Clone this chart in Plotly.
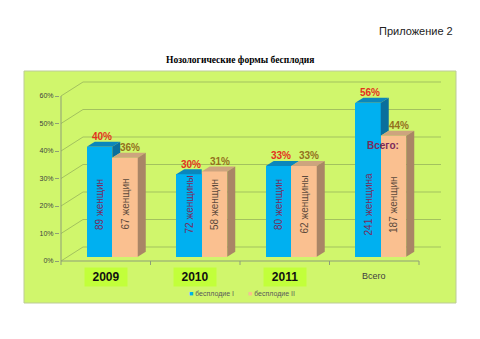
import plotly.graph_objects as go

# ---------------- data ----------------
categories = ["2009", "2010", "2011", "Всего"]
series_names = ["бесплодие I", "бесплодие II"]
infert1 = [0.40, 0.30, 0.33, 0.56]
infert2 = [0.36, 0.31, 0.33, 0.44]
label1 = ["40%", "30%", "33%", "56%"]
label2 = ["36%", "31%", "33%", "44%"]
women1 = ["89 женщин", "72 женщины", "80 женщин", "241 женщина"]
women2 = ["67 женщин", "58 женщин", "62 женщины", "187 женщин"]
ytick_vals = [0, 0.1, 0.2, 0.3, 0.4, 0.5, 0.6]
ytick_text = ["0%", "10%", "20%", "30%", "40%", "50%", "60%"]

# ---------------- geometry / style ----------------
W, H = 480, 339
PX_X = 89.5          # px per category
PX_Y = 275.0         # px per 100 %
PLOT_L, PLOT_R = 60, 444
PLOT_T, PLOT_B = 72, 268
FRONT_L = 61         # front plane left px
ZERO = 261           # front plane zero px (from top)


def ux(px):
    return px / PX_X


def uy(px):
    return px / PX_Y


def py(p):
    return 1 - p / H


x_range = [-0.5 - ux(FRONT_L - PLOT_L), -0.5 + ux(PLOT_R - FRONT_L)]
y_range = [-uy(PLOT_B - ZERO), uy(ZERO - PLOT_T)]

BAR_DX, BAR_DY = ux(6.5), uy(4.3)   # bars sit a bit behind front plane
BW = ux(25.5)                       # bar width
DX, DY = ux(8), uy(5)               # 3D depth of the bars
WALL_DX, WALL_DY = ux(22), uy(14)   # back wall depth
WALL_R = -0.5 + ux(441 - FRONT_L)
TEXT_Y = 0.19                       # height of the in-bar captions

BLUE, BLUE_TOP, BLUE_SIDE = "#00B0F0", "#0A86BC", "#0A6F9C"
PEACH, PEACH_TOP, PEACH_SIDE = "#FAC090", "#CDA47E", "#A98566"
BG = "#D0F66C"
BOX = "#C2FF3A"
GRID = "#A3C25E"
AXIS = "#8E9E78"
RED = "#E3321E"
BROWN = "#93701E"
TXT1 = "#7A2A5C"
TXT2 = "#5C4A3C"
FONT = "Liberation Sans"

fig = go.Figure()

idx = list(range(len(categories)))
x1 = [i + BAR_DX - BW / 2 for i in idx]
x2 = [i + BAR_DX + BW / 2 for i in idx]

fig.add_trace(go.Bar(
    x=x1, y=infert1, base=BAR_DY, width=BW, name=series_names[0],
    marker=dict(color=BLUE, line=dict(width=0)), showlegend=False, hoverinfo="skip"))
fig.add_trace(go.Bar(
    x=x2, y=infert2, base=BAR_DY, width=BW, name=series_names[1],
    marker=dict(color=PEACH, line=dict(width=0)), showlegend=False, hoverinfo="skip"))


def poly(xs, ys, color):
    fig.add_trace(go.Scatter(x=xs + [xs[0]], y=ys + [ys[0]], mode="lines", fill="toself",
                             fillcolor=color, line=dict(width=0, color=color),
                             showlegend=False, hoverinfo="skip"))


for i in idx:
    # blue bar faces
    xl, xr = x1[i] - BW / 2, x1[i] + BW / 2
    bt = BAR_DY + infert1[i]
    pt = BAR_DY + infert2[i]
    if pt > bt:
        poly([xl, xl + DX, xr, xr], [bt, bt + DY, bt + DY, bt], BLUE_TOP)
    else:
        poly([xl, xl + DX, xr + DX, xr], [bt, bt + DY, bt + DY, bt], BLUE_TOP)
    if bt > pt:
        poly([xr, xr + DX, xr + DX, xr], [pt, pt + DY, bt + DY, bt], BLUE_SIDE)
    # peach bar faces
    xl2, xr2 = x2[i] - BW / 2, x2[i] + BW / 2
    poly([xl2, xl2 + DX, xr2 + DX, xr2], [pt, pt + DY, pt + DY, pt], PEACH_TOP)
    poly([xr2, xr2 + DX, xr2 + DX, xr2], [BAR_DY, BAR_DY + DY, pt + DY, pt], PEACH_SIDE)

# ---------------- shapes (below traces) ----------------
shapes = [dict(type="rect", xref="paper", yref="paper", x0=24 / W, x1=456 / W,
               y0=py(303), y1=py(71), fillcolor=BG, line=dict(color="#BCCB98", width=1),
               layer="below")]
for v in ytick_vals:
    path = (f"M{-0.5},{v} L{-0.5 + WALL_DX},{v + WALL_DY} L{WALL_R},{v + WALL_DY}")
    shapes.append(dict(type="path", xref="x", yref="y", path=path,
                       line=dict(color=GRID, width=1), layer="below"))
# vertical axis line
shapes.append(dict(type="line", xref="x", yref="y", x0=-0.5, x1=-0.5, y0=0, y1=ytick_vals[-1],
                   line=dict(color=AXIS, width=1), layer="below"))
# floor (category) axis and its tick marks
shapes.append(dict(type="line", xref="x", yref="y", x0=-0.5, x1=len(categories) - 0.5,
                   y0=0, y1=0, line=dict(color=AXIS, width=1), layer="below"))
for k in range(len(categories) + 1):
    shapes.append(dict(type="line", xref="x", yref="y", x0=k - 0.5, x1=k - 0.5,
                       y0=0, y1=-uy(4), line=dict(color=AXIS, width=1), layer="below"))

# ---------------- annotations ----------------
ann = []
for i in idx:
    ann.append(dict(x=x1[i], y=BAR_DY + infert1[i], xref="x", yref="y", text=f"<b>{label1[i]}</b>",
                    showarrow=False, xshift=2, yshift=10, xanchor="center", yanchor="middle",
                    font=dict(color=RED, size=10, family=FONT)))
    ann.append(dict(x=x2[i], y=BAR_DY + infert2[i], xref="x", yref="y", text=f"<b>{label2[i]}</b>",
                    showarrow=False, xshift=5, yshift=10, xanchor="center", yanchor="middle",
                    font=dict(color=BROWN, size=10, family=FONT)))
    # in-bar captions (rotated)
    ann.append(dict(x=x1[i], y=BAR_DY + TEXT_Y, xref="x", yref="y", text=women1[i], textangle=-90,
                    showarrow=False, xanchor="center", yanchor="middle",
                    font=dict(color=TXT1, size=10, family=FONT)))
    ann.append(dict(x=x2[i], y=BAR_DY + TEXT_Y, xref="x", yref="y", text=women2[i], textangle=-90,
                    showarrow=False, xanchor="center", yanchor="middle",
                    font=dict(color=TXT2, size=10, family=FONT)))
# "Всего:" label on the total bar
ann.append(dict(x=idx[-1] + BAR_DX, y=BAR_DY + infert2[-1], xref="x", yref="y", text="<b>Всего:</b>",
                showarrow=False, xshift=2, yshift=-10, xanchor="center", yanchor="middle",
                font=dict(color=TXT1, size=10, family=FONT)))
# category labels
for i, c in enumerate(categories):
    if c == "Всего":
        ann.append(dict(x=i, y=py(276), xref="x", yref="paper", text=c, showarrow=False,
                        xanchor="center", yanchor="middle",
                        font=dict(color="#404040", size=9, family=FONT)))
    else:
        ann.append(dict(x=i, y=py(276.5), xref="x", yref="paper", text=f"<b>{c}</b>",
                        showarrow=False, bgcolor=BOX, width=40, height=16,
                        xanchor="center", yanchor="middle",
                        font=dict(color="#111111", size=12, family=FONT)))
# legend
ann.append(dict(x=211 / W, y=py(294), xref="paper", yref="paper", showarrow=False,
                xanchor="center", yanchor="middle",
                text=f'<span style="color:{BLUE}">■</span> {series_names[0]}',
                font=dict(color="#595959", size=7, family=FONT)))
ann.append(dict(x=271 / W, y=py(294), xref="paper", yref="paper", showarrow=False,
                xanchor="center", yanchor="middle",
                text=f'<span style="color:{PEACH}">■</span> {series_names[1]}',
                font=dict(color="#595959", size=7, family=FONT)))
# titles
ann.append(dict(x=240 / W, y=py(60), xref="paper", yref="paper", showarrow=False,
                xanchor="center", yanchor="middle",
                text="<b>Нозологические формы бесплодия</b>",
                font=dict(color="#000000", size=9.5, family="Liberation Serif")))
ann.append(dict(x=455 / W, y=py(31), xref="paper", yref="paper", showarrow=False,
                xanchor="right", yanchor="middle",
                text="Приложение 2", font=dict(color="#222222", size=11, family=FONT)))

fig.update_layout(
    width=W, height=H, margin=dict(l=0, r=0, t=0, b=0),
    paper_bgcolor="white", plot_bgcolor="rgba(0,0,0,0)",
    barmode="overlay", bargap=0,
    xaxis=dict(domain=[PLOT_L / W, PLOT_R / W], range=x_range, showgrid=False, zeroline=False,
               showticklabels=False, showline=False, ticks="", fixedrange=True),
    yaxis=dict(domain=[py(PLOT_B), py(PLOT_T)], range=y_range, showgrid=False, zeroline=False,
               tickvals=ytick_vals, ticktext=ytick_text, ticks="outside", ticklen=4,
               tickcolor=AXIS, showline=False,
               tickfont=dict(size=7, color="#404040", family=FONT), fixedrange=True),
    shapes=shapes, annotations=ann, showlegend=False,
)

fig.write_html("out.html")
